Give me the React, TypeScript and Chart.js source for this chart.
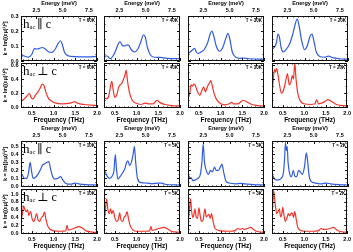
import React, { useEffect, useRef } from 'react';
import { Chart, registerables } from 'chart.js';
Chart.register(...registerables);

const THZ_TO_MEV = 4.1357;
const FREQ_MIN = 0.25;
const FREQ_MAX = 2.0;
const FREQ_TICKS = [0.5, 1.0, 1.5, 2.0];
const ENERGY_TICKS = [2.5, 5.0, 7.5];
const TEMPS_TOP = ['T = 60K', 'T = 40K', 'T = 30K', 'T = 20K'];
const TEMPS_BOTTOM = ['T = 10K', 'T = 5K', 'T = 3K', 'T = 2K'];

// y ranges per row: [min, max, label step]
const Y_ROW1 = [0, 0.3, 0.1];
const Y_ROW2 = [-0.01, 0.63, 0.2];
const Y_ROW3 = [-0.01, 0.57, 0.1];
const Y_ROW4 = [-0.02, 1.13, 0.2];
const Y_TICKS_ROW1 = [0, 0.1, 0.2, 0.3];
const Y_TICKS_ROW2 = [0, 0.2, 0.4, 0.6];
const Y_TICKS_ROW3 = [0, 0.1, 0.2, 0.3, 0.4, 0.5];
const Y_TICKS_ROW4 = [0, 0.2, 0.4, 0.6, 0.8, 1.0];

// [frequency THz, k]
const K_PAR_60K = [[0.25,0.03],[0.3,0.036],[0.35,0.03],[0.42,0.026],[0.5,0.045],[0.56,0.082],[0.62,0.08],[0.67,0.083],[0.74,0.09],[0.8,0.082],[0.88,0.062],[0.96,0.058],[1.04,0.08],[1.1,0.115],[1.16,0.135],[1.2,0.11],[1.25,0.06],[1.31,0.038],[1.4,0.031],[1.6,0.028],[1.8,0.028],[2.0,0.031]];
const K_PAR_40K = [[0.25,0.02],[0.3,0.035],[0.34,0.03],[0.39,0.015],[0.45,0.03],[0.52,0.07],[0.58,0.115],[0.62,0.127],[0.67,0.105],[0.72,0.1],[0.78,0.108],[0.82,0.105],[0.88,0.075],[0.95,0.06],[1.03,0.08],[1.1,0.13],[1.16,0.175],[1.2,0.16],[1.25,0.09],[1.32,0.04],[1.42,0.025],[1.55,0.024],[1.7,0.018],[2.0,0.015]];
const K_PAR_30K = [[0.25,0.05],[0.3,0.06],[0.36,0.075],[0.4,0.085],[0.44,0.06],[0.48,0.05],[0.55,0.06],[0.62,0.075],[0.7,0.12],[0.76,0.18],[0.8,0.2],[0.84,0.17],[0.9,0.1],[0.98,0.065],[1.05,0.09],[1.12,0.15],[1.17,0.185],[1.21,0.15],[1.27,0.06],[1.35,0.025],[1.45,0.018],[1.52,0.02],[1.65,0.015],[2.0,0.012]];
const K_PAR_20K = [[0.25,0.08],[0.3,0.09],[0.35,0.12],[0.39,0.18],[0.42,0.16],[0.46,0.09],[0.51,0.06],[0.57,0.075],[0.65,0.11],[0.72,0.17],[0.78,0.24],[0.83,0.28],[0.87,0.24],[0.93,0.14],[1.0,0.075],[1.06,0.1],[1.12,0.16],[1.17,0.18],[1.21,0.14],[1.27,0.06],[1.35,0.03],[1.45,0.025],[1.55,0.032],[1.65,0.022],[1.8,0.015],[2.0,0.012]];

const K_PERP_60K = [[0.25,0.11],[0.29,0.1],[0.34,0.13],[0.4,0.17],[0.44,0.2],[0.49,0.13],[0.53,0.12],[0.58,0.17],[0.64,0.22],[0.69,0.27],[0.74,0.33],[0.78,0.31],[0.82,0.22],[0.88,0.13],[0.95,0.09],[1.05,0.06],[1.2,0.05],[1.35,0.055],[1.44,0.07],[1.49,0.08],[1.55,0.06],[1.7,0.04],[1.85,0.03],[2.0,0.025]];
const K_PERP_40K = [[0.25,0.15],[0.3,0.12],[0.36,0.16],[0.4,0.3],[0.43,0.37],[0.46,0.25],[0.5,0.14],[0.54,0.17],[0.59,0.29],[0.62,0.32],[0.66,0.34],[0.7,0.4],[0.73,0.45],[0.76,0.53],[0.79,0.38],[0.84,0.2],[0.9,0.1],[0.98,0.06],[1.1,0.04],[1.2,0.06],[1.27,0.05],[1.38,0.05],[1.47,0.1],[1.53,0.07],[1.65,0.04],[1.8,0.025],[2.0,0.02]];
const K_PERP_30K = [[0.25,0.12],[0.29,0.2],[0.32,0.32],[0.35,0.3],[0.38,0.33],[0.42,0.31],[0.47,0.22],[0.52,0.17],[0.57,0.24],[0.61,0.29],[0.65,0.22],[0.7,0.3],[0.74,0.34],[0.77,0.38],[0.8,0.33],[0.84,0.22],[0.9,0.12],[0.98,0.06],[1.1,0.035],[1.2,0.05],[1.25,0.07],[1.3,0.05],[1.4,0.05],[1.52,0.1],[1.6,0.08],[1.72,0.04],[1.85,0.025],[2.0,0.02]];
const K_PERP_20K = [[0.25,0.2],[0.28,0.4],[0.31,0.54],[0.33,0.5],[0.36,0.55],[0.39,0.46],[0.43,0.3],[0.47,0.2],[0.52,0.25],[0.57,0.38],[0.61,0.48],[0.65,0.32],[0.69,0.36],[0.72,0.45],[0.75,0.4],[0.78,0.63],[0.81,0.4],[0.85,0.2],[0.92,0.08],[1.0,0.05],[1.15,0.04],[1.25,0.05],[1.29,0.11],[1.33,0.05],[1.45,0.07],[1.55,0.11],[1.62,0.09],[1.75,0.04],[2.0,0.02]];

const K_PAR_10K = [[0.25,0.15],[0.29,0.13],[0.33,0.1],[0.38,0.1],[0.42,0.16],[0.46,0.3],[0.49,0.2],[0.53,0.1],[0.58,0.11],[0.64,0.15],[0.7,0.21],[0.75,0.27],[0.79,0.28],[0.84,0.3],[0.89,0.31],[0.93,0.22],[0.98,0.12],[1.03,0.09],[1.1,0.1],[1.16,0.12],[1.21,0.08],[1.28,0.035],[1.4,0.025],[1.5,0.04],[1.58,0.03],[1.75,0.02],[2.0,0.015]];
const K_PAR_5K = [[0.25,0.2],[0.28,0.18],[0.33,0.12],[0.38,0.1],[0.44,0.13],[0.48,0.2],[0.51,0.4],[0.54,0.2],[0.57,0.09],[0.62,0.12],[0.68,0.17],[0.73,0.22],[0.77,0.3],[0.8,0.32],[0.84,0.26],[0.88,0.3],[0.92,0.4],[0.95,0.5],[0.98,0.3],[1.02,0.1],[1.1,0.045],[1.25,0.04],[1.35,0.03],[1.5,0.04],[1.58,0.04],[1.65,0.025],[2.0,0.015]];
const K_PAR_3K = [[0.25,0.1],[0.27,0.13],[0.29,0.1],[0.32,0.11],[0.36,0.07],[0.42,0.08],[0.48,0.1],[0.53,0.14],[0.57,0.3],[0.6,0.53],[0.63,0.3],[0.67,0.2],[0.72,0.15],[0.77,0.2],[0.81,0.18],[0.86,0.24],[0.9,0.2],[0.95,0.2],[1.0,0.25],[1.03,0.28],[1.07,0.18],[1.12,0.07],[1.2,0.04],[1.35,0.03],[1.45,0.035],[1.55,0.03],[1.75,0.02],[2.0,0.015]];
const K_PAR_2K = [[0.25,0.11],[0.27,0.13],[0.3,0.1],[0.34,0.08],[0.4,0.08],[0.46,0.1],[0.51,0.16],[0.54,0.35],[0.56,0.55],[0.58,0.45],[0.6,0.5],[0.62,0.3],[0.66,0.15],[0.7,0.12],[0.74,0.2],[0.78,0.12],[0.82,0.12],[0.86,0.2],[0.9,0.18],[0.95,0.15],[1.0,0.25],[1.04,0.42],[1.07,0.32],[1.1,0.15],[1.15,0.06],[1.25,0.04],[1.4,0.03],[1.5,0.04],[1.6,0.03],[1.8,0.02],[2.0,0.015]];

const K_PERP_10K = [[0.25,0.3],[0.28,0.5],[0.31,0.7],[0.34,0.6],[0.37,0.55],[0.4,0.6],[0.43,0.45],[0.47,0.55],[0.51,0.35],[0.55,0.3],[0.58,0.4],[0.61,0.5],[0.64,0.35],[0.68,0.3],[0.72,0.4],[0.76,0.45],[0.79,0.54],[0.82,0.38],[0.86,0.2],[0.92,0.1],[1.0,0.06],[1.15,0.05],[1.28,0.06],[1.31,0.2],[1.34,0.08],[1.42,0.1],[1.5,0.14],[1.58,0.17],[1.65,0.14],[1.75,0.06],[1.9,0.03],[2.0,0.02]];
const K_PERP_5K = [[0.25,0.3],[0.28,0.55],[0.31,0.88],[0.34,0.6],[0.37,0.5],[0.4,0.62],[0.43,0.5],[0.46,0.58],[0.5,0.4],[0.54,0.3],[0.58,0.35],[0.61,0.52],[0.64,0.34],[0.68,0.3],[0.72,0.42],[0.75,0.45],[0.78,0.55],[0.81,0.4],[0.85,0.2],[0.92,0.08],[1.0,0.05],[1.2,0.05],[1.3,0.06],[1.33,0.17],[1.36,0.07],[1.45,0.1],[1.55,0.13],[1.62,0.15],[1.7,0.12],[1.8,0.05],[2.0,0.02]];
const K_PERP_3K = [[0.25,0.3],[0.28,0.55],[0.31,0.88],[0.33,0.6],[0.36,0.4],[0.39,0.5],[0.41,0.62],[0.44,0.4],[0.47,0.38],[0.5,0.65],[0.53,0.45],[0.56,0.3],[0.6,0.35],[0.64,0.62],[0.67,0.42],[0.7,0.45],[0.73,0.48],[0.76,0.38],[0.79,0.5],[0.82,0.35],[0.86,0.15],[0.93,0.08],[1.0,0.06],[1.2,0.05],[1.32,0.06],[1.4,0.12],[1.45,0.1],[1.5,0.12],[1.55,0.1],[1.62,0.12],[1.7,0.15],[1.75,0.1],[1.82,0.05],[2.0,0.02]];
const K_PERP_2K = [[0.25,0.4],[0.27,0.8],[0.29,1.08],[0.31,0.9],[0.33,0.7],[0.36,0.5],[0.39,0.55],[0.42,0.62],[0.45,0.42],[0.48,0.5],[0.5,0.66],[0.53,0.45],[0.56,0.3],[0.6,0.4],[0.63,0.5],[0.66,0.44],[0.69,0.5],[0.72,0.52],[0.75,0.4],[0.78,0.55],[0.81,0.38],[0.85,0.15],[0.9,0.08],[1.0,0.05],[1.2,0.05],[1.32,0.06],[1.4,0.12],[1.45,0.1],[1.52,0.1],[1.6,0.12],[1.68,0.15],[1.74,0.1],[1.82,0.05],[2.0,0.02]];

const W = 353;
const H = 252;
const COL_LEFT = [21, 104, 188, 272];
const COL_W = 76;
const ROW_TB = [[16, 61], [63, 108], [141, 187], [189, 234]];
const BLUE = '#2f5ce0';
const RED = '#f2352b';
const SANS = '"Liberation Sans", Arial, sans-serif';
const SERIF = '"Liberation Serif", "DejaVu Serif", serif';

const ROWS = [
  { series: [K_PAR_60K, K_PAR_40K, K_PAR_30K, K_PAR_20K], temps: TEMPS_TOP, y: Y_ROW1, yt: Y_TICKS_ROW1, color: BLUE, pol: 'par', top: true, bottom: false },
  { series: [K_PERP_60K, K_PERP_40K, K_PERP_30K, K_PERP_20K], temps: TEMPS_TOP, y: Y_ROW2, yt: Y_TICKS_ROW2, color: RED, pol: 'perp', top: false, bottom: true },
  { series: [K_PAR_10K, K_PAR_5K, K_PAR_3K, K_PAR_2K], temps: TEMPS_BOTTOM, y: Y_ROW3, yt: Y_TICKS_ROW3, color: BLUE, pol: 'par', top: true, bottom: false },
  { series: [K_PERP_10K, K_PERP_5K, K_PERP_3K, K_PERP_2K], temps: TEMPS_BOTTOM, y: Y_ROW4, yt: Y_TICKS_ROW4, color: RED, pol: 'perp', top: false, bottom: true },
];

const frameTicks = {
  id: 'frameTicks',
  afterDraw(chart: any, _a: any, o: any) {
    const { ctx, chartArea } = chart;
    const { left, right, top, bottom } = chartArea;
    const xs = chart.scales.x;
    const ys = chart.scales.y;
    ctx.save();
    ctx.strokeStyle = '#111';
    ctx.lineWidth = 1;
    ctx.strokeRect(Math.round(left) + 0.5, Math.round(top) + 0.5, Math.round(right - left) - 1, Math.round(bottom - top) - 1);
    ctx.beginPath();
    for (let i = 3; i <= 20; i++) {
      const px = Math.round(xs.getPixelForValue(i / 10)) + 0.5;
      const len = i % 5 === 0 ? 3 : 1.5;
      ctx.moveTo(px, bottom);
      ctx.lineTo(px, bottom - len);
    }
    for (let i = 3; i <= 16; i++) {
      const px = Math.round(xs.getPixelForValue((i * 0.5) / THZ_TO_MEV)) + 0.5;
      const len = i % 5 === 0 ? 3 : 1.5;
      ctx.moveTo(px, top);
      ctx.lineTo(px, top + len);
    }
    const half = o.step / 2;
    const n = Math.floor((o.max + 1e-9) / half);
    for (let i = 0; i <= n; i++) {
      const py = Math.round(ys.getPixelForValue(i * half)) + 0.5;
      const len = i % 2 === 0 ? 3 : 1.5;
      ctx.moveTo(left, py);
      ctx.lineTo(left + len, py);
      ctx.moveTo(right, py);
      ctx.lineTo(right - len, py);
    }
    ctx.stroke();
    ctx.restore();
  },
};

const annot = {
  id: 'annot',
  afterDraw(chart: any, _a: any, o: any) {
    const { ctx, chartArea } = chart;
    const { left, right, top } = chartArea;
    ctx.save();
    ctx.fillStyle = '#000';
    ctx.font = 'bold 4.5px ' + SANS;
    ctx.textAlign = 'right';
    ctx.textBaseline = 'middle';
    ctx.fillText(o.temp, right - 2, top + 5);
    if (o.showPol) {
      ctx.textAlign = 'left';
      ctx.textBaseline = 'alphabetic';
      let x = left + 2;
      const y = top + 11.5;
      ctx.font = '13px ' + SERIF;
      ctx.fillText('h', x, y);
      x += ctx.measureText('h').width;
      ctx.font = '6.5px ' + SERIF;
      ctx.fillText('ac', x, y + 1.5);
      x += ctx.measureText('ac').width + 2;
      ctx.font = '12px ' + SERIF;
      ctx.fillText(o.pol === 'par' ? '\u2225 c' : '\u22A5 c', x, y);
    }
    ctx.restore();
  },
};

function makeConfig(r: number, c: number): any {
  const row = ROWS[r];
  const [t, b] = ROW_TB[r];
  const l = COL_LEFT[c];
  const rr = l + COL_W;
  const showLeft = c === 0;
  const TOP_H = 16;
  const BOT_H = 17;
  const LEFT_W = 21;
  const pts = row.series[c].map(([x, y]) => ({ x, y }));
  return {
    type: 'line',
    data: {
      datasets: [
        {
          data: pts,
          borderColor: row.color,
          borderWidth: 1.2,
          pointRadius: 0,
          fill: false,
          cubicInterpolationMode: 'monotone',
          xAxisID: 'x',
          yAxisID: 'y',
        },
      ],
    },
    options: {
      responsive: false,
      animation: false,
      events: [],
      layout: {
        padding: {
          left: showLeft ? l - LEFT_W : l,
          right: W - rr,
          top: row.top ? t - TOP_H : t,
          bottom: row.bottom ? H - b - BOT_H : H - b,
        },
      },
      plugins: {
        legend: { display: false },
        tooltip: { enabled: false },
        frameTicks: { step: row.y[2], max: row.y[1] },
        annot: { temp: row.temps[c], showPol: c === 0, pol: row.pol },
      },
      scales: {
        x: {
          type: 'linear',
          position: 'bottom',
          min: FREQ_MIN,
          max: FREQ_MAX,
          display: row.bottom,
          grid: { display: false, drawTicks: false },
          border: { display: false },
          afterBuildTicks: (s: any) => { s.ticks = FREQ_TICKS.map((v) => ({ value: v })); },
          afterFit: (s: any) => { s.height = row.bottom ? BOT_H : 0; },
          ticks: { color: '#000', padding: 2, maxRotation: 0, autoSkip: false, font: { family: SANS, size: 5.5, weight: 'bold' }, callback: (v: any) => Number(v).toFixed(1) },
          title: { display: true, text: 'Frequency (THz)', color: '#000', font: { family: SANS, size: 6.5, weight: 'bold' }, padding: { top: 0, bottom: 1 } },
        },
        x2: {
          type: 'linear',
          position: 'top',
          min: FREQ_MIN * THZ_TO_MEV,
          max: FREQ_MAX * THZ_TO_MEV,
          display: row.top,
          grid: { display: false, drawTicks: false },
          border: { display: false },
          afterBuildTicks: (s: any) => { s.ticks = ENERGY_TICKS.map((v) => ({ value: v })); },
          afterFit: (s: any) => { s.height = row.top ? TOP_H : 0; },
          ticks: { color: '#000', padding: 2.5, maxRotation: 0, autoSkip: false, font: { family: SANS, size: 5.5, weight: 'bold' }, callback: (v: any) => Number(v).toFixed(1) },
          title: { display: true, text: 'Energy (meV)', color: '#000', font: { family: SANS, size: 5.5, weight: 'bold' }, padding: { top: 0.5, bottom: 0 } },
        },
        y: {
          type: 'linear',
          position: 'left',
          min: row.y[0],
          max: row.y[1],
          display: showLeft,
          grid: { display: false, drawTicks: false },
          border: { display: false },
          afterBuildTicks: (s: any) => { s.ticks = row.yt.map((v) => ({ value: v })); },
          afterFit: (s: any) => { s.width = showLeft ? LEFT_W : 0; },
          ticks: { color: '#000', padding: 2.5, autoSkip: false, font: { family: SANS, size: 5.5, weight: 'bold' }, callback: (v: any) => Number(v).toFixed(1) },
          title: { display: true, text: 'k = Im[(\u03B5\u03BC)\u00B9/\u00B2]', color: '#000', font: { family: SANS, size: 5.5, weight: 'bold' }, padding: { top: 2, bottom: 0 } },
        },
      },
    },
    plugins: [frameTicks, annot],
  };
}

const PANELS: [number, number][] = [];
for (let r = 0; r < 4; r++) for (let c = 0; c < 4; c++) PANELS.push([r, c]);

export default function App() {
  const refs = useRef<(HTMLCanvasElement | null)[]>([]);
  useEffect(() => {
    const charts = PANELS.map(([r, c], i) => new Chart(refs.current[i] as HTMLCanvasElement, makeConfig(r, c)));
    return () => charts.forEach((ch) => ch.destroy());
  }, []);
  return (
    <div style={{ position: 'fixed', left: 0, top: 0, width: W, height: H, background: '#fff', overflow: 'hidden' }}>
      {PANELS.map((_, i) => (
        <canvas
          key={i}
          ref={(el) => { refs.current[i] = el; }}
          width={W}
          height={H}
          style={{ position: 'absolute', left: 0, top: 0, width: W, height: H }}
        />
      ))}
    </div>
  );
}
